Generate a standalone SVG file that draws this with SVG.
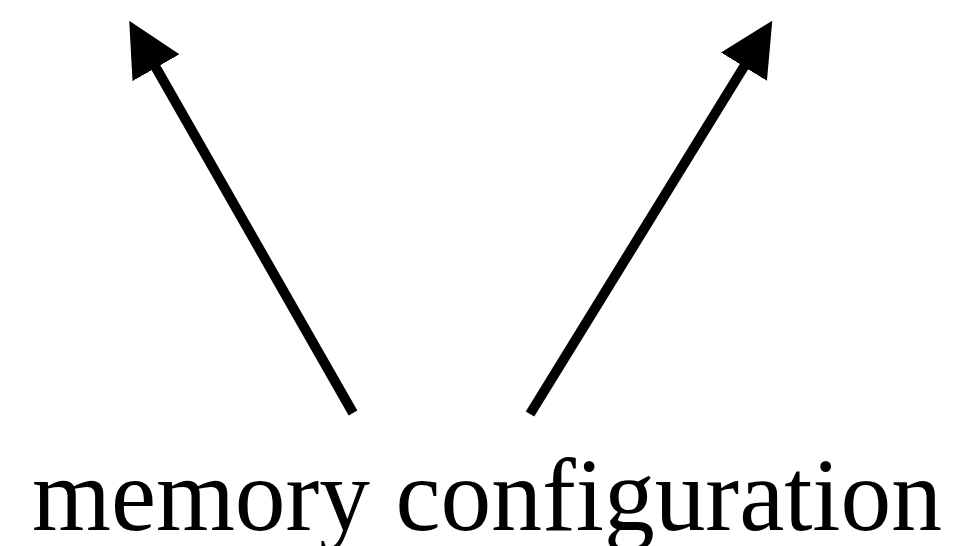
<svg xmlns="http://www.w3.org/2000/svg" width="954" height="546" viewBox="0 0 954 546">
  <style>
    .conn { stroke: #000; stroke-width: 10; fill: none; marker-end: url(#head); }
    .label { font-family: "Liberation Serif", "DejaVu Serif", serif; font-size: 104px; fill: #000; }
  </style>
  <defs>
    <marker id="head" markerUnits="userSpaceOnUse" viewBox="0 0 54 54" markerWidth="54" markerHeight="54" refX="2" refY="27" orient="auto">
      <path d="M0,0 L54,27 L0,54 Z" fill="#000"/>
    </marker>
  </defs>
  <rect width="954" height="546" fill="#fff"/>
  <g id="connectors">
    <line class="conn" x1="353" y1="413" x2="155" y2="66"/>
    <line class="conn" x1="530" y1="414" x2="745" y2="65"/>
  </g>
  <g id="label">
    <text class="label" x="32" y="530" textLength="910" lengthAdjust="spacingAndGlyphs">memory configuration</text>
  </g>
</svg>
